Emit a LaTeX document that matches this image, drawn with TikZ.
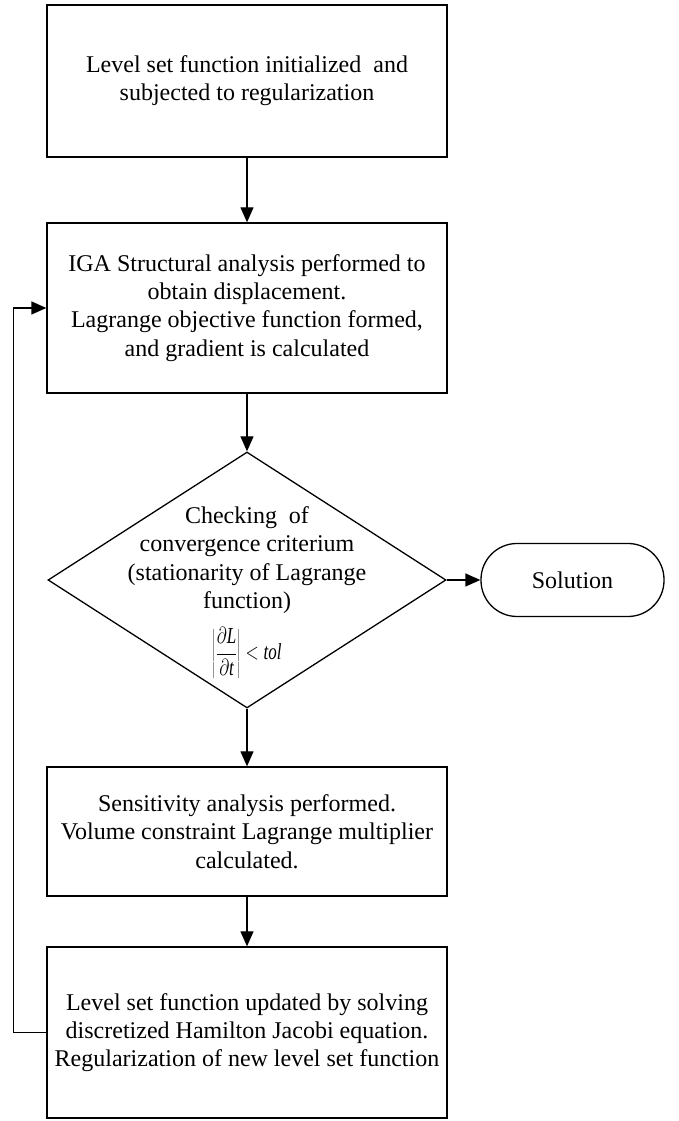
\documentclass[tikz,border=0pt]{standalone}
\usepackage{fontspec}
\setmainfont{Liberation Serif}
\usetikzlibrary{arrows.meta,positioning,shapes.geometric}
\tikzset{
  box/.style={draw=black,fill=white,line width=1.3pt,minimum width=400pt,align=center,inner sep=0pt,font=\fontsize{24}{28.3}\selectfont},
  decide/.style={draw=black,diamond,line width=1.3pt,minimum width=398pt,minimum height=256pt,inner sep=0pt},
  term/.style={draw=black,line width=1.3pt,rounded corners=36pt,minimum width=183pt,minimum height=73pt,font=\fontsize{24}{28.3}\selectfont},
  flow/.style={-{Triangle[length=15pt,width=13pt]},draw=black,line width=1.3pt}
}

\begin{document}
\begin{tikzpicture}[x=1pt,y=1pt]
  \useasboundingbox (0,0) rectangle (678,1121);
  \node[box,minimum height=152pt] (init) at (247,1040) {Level set function initialized\ \ and\\subjected to regularization};
  \node[box,minimum height=170pt,below=64.7pt of init] (iga) {IGA Structural analysis performed to\\obtain displacement.\\Lagrange objective function formed,\\and gradient is calculated};
  \node[decide,below=57.7pt of iga] (check) {};
  \node[align=center,font=\fontsize{24}{28.3}\selectfont,yshift=20pt] (checktxt) at (check.center) {Checking\ \ of\\convergence criterium\\(stationarity of Lagrange\\function)};
  \node[font=\fontsize{17}{20}\selectfont,inner sep=0pt,yshift=-73pt] (crit) at (check.center) {\scalebox{1}[1.35]{$\left|\displaystyle\frac{\partial \textit{L}}{\partial \textit{t}}\right| < \textit{tol}$}};
  \node[term,right=33.7pt of check] (sol) {Solution};
  \node[box,minimum height=129pt,below=57.7pt of check] (sens) {Sensitivity analysis performed.\\Volume constraint Lagrange multiplier\\calculated.};
  \node[box,minimum height=171pt,below=49.7pt of sens] (upd) {Level set function updated by solving\\discretized Hamilton Jacobi equation.\\Regularization of new level set function};
  % connectors
  \draw[flow] (init) -- (iga);
  \draw[flow] (iga) -- (check);
  \draw[flow] (check) -- (sol);
  \draw[flow] (check) -- (sens);
  \draw[flow] (sens) -- (upd);
  \draw[flow] (upd.west) -- ++(-33pt,0) |- (iga.west);
\end{tikzpicture}
\end{document}
